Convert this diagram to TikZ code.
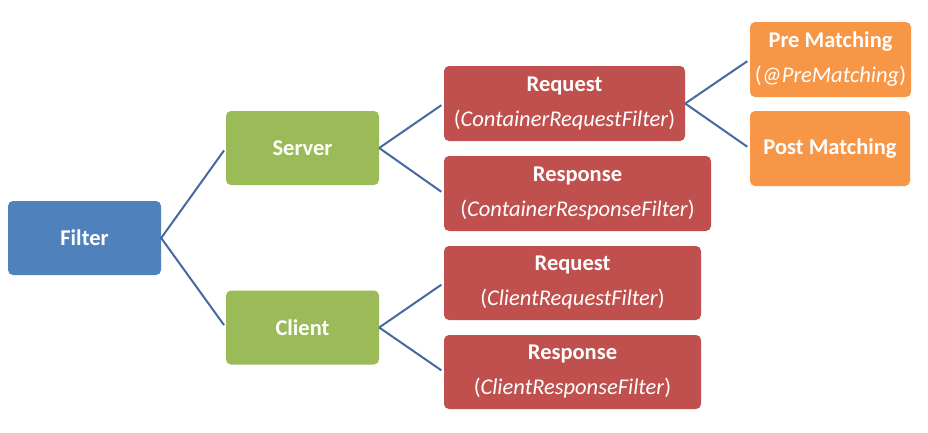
\documentclass[tikz,border=0pt]{standalone}
\usepackage{fontspec}
\setmainfont{Carlito}
\definecolor{cblue}{RGB}{79,129,189}
\definecolor{cgreen}{RGB}{155,187,89}
\definecolor{cred}{RGB}{192,80,77}
\definecolor{corange}{RGB}{247,150,70}
\definecolor{cline}{RGB}{70,105,160}
\tikzset{
  box/.style={rounded corners=5pt, text=white, align=center, inner sep=0pt,
    font=\fontsize{22.5}{35}\selectfont\bfseries},
  link/.style={draw=cline, line width=2pt, shorten >=3pt},
}
\newcommand{\sub}[1]{{\mdseries(\textit{#1})}}
\begin{document}
\begin{tikzpicture}[x=1pt,y=-1pt]
\useasboundingbox (0,0) rectangle (928,432);
\fill[white] (0,0) rectangle (928,432);
\node[box, fill=cblue, minimum width=153pt, minimum height=74pt] (filter) at (84.5,238) {Filter};
\node[box, fill=cgreen, minimum width=153pt, minimum height=74pt] (server) at (302.5,148) {Server};
\node[box, fill=cgreen, minimum width=153pt, minimum height=74pt] (client) at (302.5,327.5) {Client};
\node[box, fill=cred, minimum width=241pt, minimum height=75pt] (sreq) at (564.5,103.5) {Request\\\sub{ContainerRequestFilter}};
\node[box, fill=cred, minimum width=267pt, minimum height=75pt] (sres) at (577.5,193.5) {Response\\\sub{ContainerResponseFilter}};
\node[box, fill=cred, minimum width=257pt, minimum height=74pt] (creq) at (572.5,283) {Request\\\sub{ClientRequestFilter}};
\node[box, fill=cred, minimum width=257pt, minimum height=74pt] (cres) at (572.5,372) {Response\\\sub{ClientResponseFilter}};
\node[box, fill=corange, minimum width=161pt, minimum height=75pt] (pre) at (830.5,59.5) {Pre Matching\\\sub{@PreMatching}};
\node[box, fill=corange, minimum width=160pt, minimum height=75pt] (post) at (830,148.5) {Post Matching};
\draw[link] (filter.east) -- (server.west);
\draw[link] (filter.east) -- (client.west);
\draw[link] (server.east) -- (sreq.west);
\draw[link] (server.east) -- (sres.west);
\draw[link] (client.east) -- (creq.west);
\draw[link] (client.east) -- (cres.west);
\draw[link] (sreq.east) -- (pre.west);
\draw[link] (sreq.east) -- (post.west);
\end{tikzpicture}
\end{document}
